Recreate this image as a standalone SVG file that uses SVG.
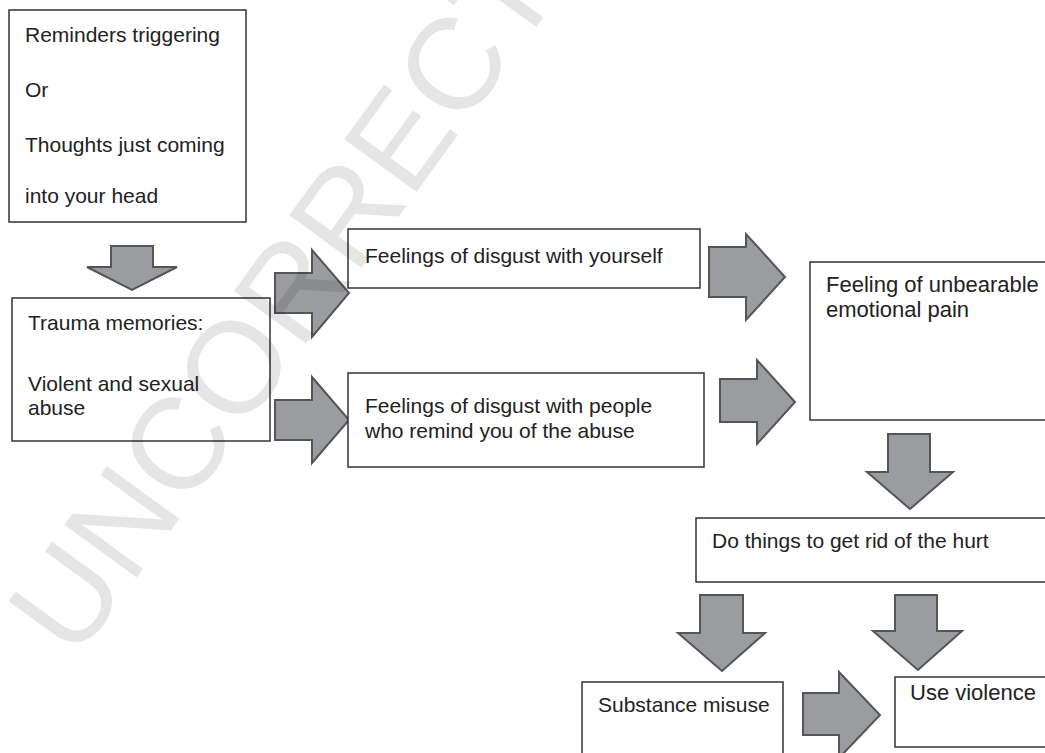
<svg xmlns="http://www.w3.org/2000/svg" width="1045" height="753" viewBox="0 0 1045 753">
<style>
.box{fill:#fff;stroke:#333;stroke-width:1.5}
.arr{fill:#9b9ca0;stroke:#555;stroke-width:2;stroke-linejoin:miter}
.t{font-family:"Liberation Sans",Arial,sans-serif;font-size:21px;fill:#222}
.t22{font-size:22px}
.wm{font-family:"Liberation Sans",Arial,sans-serif;font-size:130px;fill:#000;fill-opacity:0.1}
</style>
<rect width="1045" height="753" fill="#fff"/>
<g id="connectors">
<polygon class="arr" points="111,246 153,246 153,267 177,267 132,290 87,267 111,267"/>
<polygon class="arr" points="275,273 312,273 312,250 349,293 312,337 312,313 275,313"/>
<polygon class="arr" points="275,400 312,400 312,377 349,420 312,463 312,440 275,440"/>
<polygon class="arr" points="709,247 746,247 746,234 785,277 746,320 746,297 709,297"/>
<polygon class="arr" points="720,379 757,379 757,360 795,402 757,444 757,422 720,422"/>
<polygon class="arr" points="888,434 930,434 930,472 953,472 910,509 867,472 888,472"/>
<polygon class="arr" points="700,595 743,595 743,633 765,633 722,671 678,633 700,633"/>
<polygon class="arr" points="895,595 937,595 937,631 962,631 918,670 873,631 895,631"/>
<polygon class="arr" points="803,693 839,693 839,672 880,715 839,758 839,735 803,735"/>
</g>
<g id="n1">
<rect class="box" x="9" y="10" width="237" height="212"/>
<text class="t" x="25" y="42">Reminders triggering</text>
<text class="t" x="25" y="97">Or</text>
<text class="t" x="25" y="152">Thoughts just coming</text>
<text class="t" x="25" y="203">into your head</text>
</g>
<g id="n2">
<rect class="box" x="12" y="298" width="258" height="143"/>
<text class="t" x="28" y="330">Trauma memories:</text>
<text class="t" x="28" y="391">Violent and sexual</text>
<text class="t" x="28" y="415">abuse</text>
</g>
<g id="n3">
<rect class="box" x="348" y="229" width="352" height="59"/>
<text class="t" x="365" y="263">Feelings of disgust with yourself</text>
</g>
<g id="n4">
<rect class="box" x="348" y="373" width="356" height="94"/>
<text class="t" x="365" y="413">Feelings of disgust with people</text>
<text class="t" x="365" y="438">who remind you of the abuse</text>
</g>
<g id="n5">
<rect class="box" x="810" y="262" width="240" height="158"/>
<text class="t t22" x="826" y="292">Feeling of unbearable</text>
<text class="t t22" x="826" y="317">emotional pain</text>
</g>
<g id="n6">
<rect class="box" x="696" y="518" width="354" height="64"/>
<text class="t" x="712" y="548">Do things to get rid of the hurt</text>
</g>
<g id="n7">
<rect class="box" x="582" y="682" width="201" height="80"/>
<text class="t" x="598" y="712">Substance misuse</text>
</g>
<g id="n8">
<rect class="box" x="895" y="677" width="155" height="70"/>
<text class="t t22" x="910" y="700">Use violence</text>
</g>
<text class="wm" transform="translate(75,662) rotate(-54)">UNCORRECTED</text>
</svg>
